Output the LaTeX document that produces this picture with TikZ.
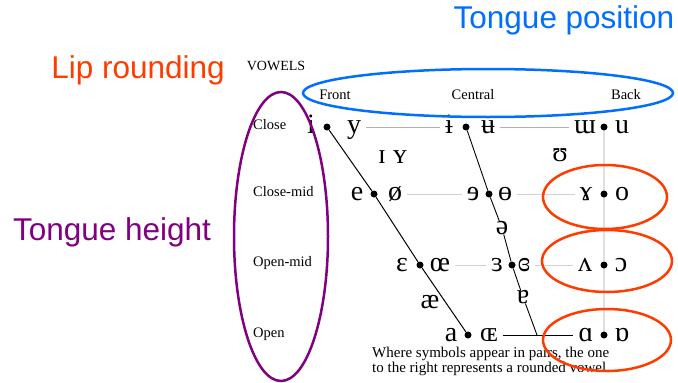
\documentclass[tikz,border=0pt]{standalone}
\usepackage{fontspec}
\setmainfont{Liberation Serif}
\newfontfamily\notefont{Liberation Sans}
\definecolor{posblue}{RGB}{0,110,255}
\definecolor{liporange}{RGB}{255,60,0}
\definecolor{heightpurple}{RGB}{128,0,128}

\begin{document}
\begin{tikzpicture}[x=1pt,y=-1pt,
    vowel/.style={inner ysep=0pt,inner xsep=5pt,text height=12.5pt,text depth=0pt,font=\fontsize{28}{28}\selectfont},
    dot/.style={circle,fill,inner sep=0pt,minimum size=7pt},
    rowlabel/.style={anchor=west,inner sep=0pt,text height=10pt,text depth=3pt,font=\fontsize{14.5}{14.5}\selectfont},
    note/.style={inner sep=0pt,font=\notefont\fontsize{31.5}{31.5}\selectfont},
    closeline/.style={gray!60,line width=0.8pt},
    midline/.style={gray!35,line width=0.8pt},
    backline/.style={gray!25,line width=1.5pt}]
    \useasboundingbox (0,0) rectangle (678,383);
    \node[note,text=posblue] (pos) at (564,20) {Tongue position};
    \node[note,text=liporange] (lip) at (138,70) {Lip rounding};
    \node[note,text=heightpurple] (height) at (112,232) {Tongue height};
    \node[font=\fontsize{14}{14}\selectfont] (title) at (276,66) {VOWELS};
    \node[rowlabel,anchor=center] (front) at (335,96) {Front};
    \node[rowlabel,anchor=center] (central) at (473,96) {Central};
    \node[rowlabel,anchor=center] (back) at (626,96) {Back};
    \node[rowlabel] (close) at (253,126) {Close};
    \node[rowlabel] (closemid) at (253,193) {Close-mid};
    \node[rowlabel] (openmid) at (253,263) {Open-mid};
    \node[rowlabel] (open) at (253,334) {Open};
    \draw[backline] (604,127) -- (604,335);
    \node[dot] (fd1) at (327,127) {};
    \node[dot] (fd2) at (374,194) {};
    \node[dot] (fd3) at (420,265) {};
    \node[dot] (fd4) at (468,335) {};
    \node[dot] (cd1) at (466,127) {};
    \node[dot] (cd2) at (489,194) {};
    \node[dot] (cd3) at (512,265) {};
    \coordinate (cd4) at (537,335);
    \node[dot] (bd1) at (604,127) {};
    \node[dot] (bd2) at (604,194) {};
    \node[dot] (bd3) at (604,265) {};
    \node[dot] (bd4) at (604,335) {};
    \node[vowel] (i) at (311,127) {i};
    \node[vowel] (y) at (354,127) {y};
    \node[vowel] (ibar) at (449,127) {ɨ};
    \node[vowel] (ubar) at (488,127) {ʉ};
    \node[vowel] (turnm) at (585,127) {ɯ};
    \node[vowel] (u) at (622,127) {u};
    \node[vowel] (smallI) at (382,157) {ɪ};
    \node[vowel] (smallY) at (400,157) {ʏ};
    \node[vowel] (upsilon) at (560,155) {ʊ};
    \node[vowel] (e) at (357,194) {e};
    \node[vowel] (oslash) at (395,194) {ø};
    \node[vowel] (reve) at (473,194) {ɘ};
    \node[vowel] (obar) at (505,194) {ɵ};
    \node[vowel] (ramshorn) at (586,194) {ɤ};
    \node[vowel] (o) at (622,194) {o};
    \node[vowel] (schwa) at (502,228) {ə};
    \node[vowel] (epsilon) at (402,265) {ɛ};
    \node[vowel] (oe) at (440,265) {œ};
    \node[vowel] (revepsilon) at (497,265) {ɜ};
    \node[vowel] (closedrev) at (524,265) {ɞ};
    \node[vowel] (turnv) at (585,265) {ʌ};
    \node[vowel] (openo) at (621,265) {ɔ};
    \node[vowel] (ash) at (430,302) {æ};
    \node[vowel] (turna) at (523,297) {ɐ};
    \node[vowel] (a) at (451,335) {a};
    \node[vowel] (OE) at (489,335) {ɶ};
    \node[vowel] (alpha) at (586,335) {ɑ};
    \node[vowel] (turnalpha) at (622,335) {ɒ};
    \draw[line width=1pt] (fd1) -- (fd2) -- (fd3) -- (fd4);
    \draw[line width=0.9pt] (cd1) -- (cd2) -- (schwa) (schwa) -- (cd3) -- (turna) (turna) -- (cd4);
    \draw[closeline] (y) -- (ibar);
    \draw[closeline] (ubar) -- (turnm);
    \draw[midline] (oslash) -- (reve);
    \draw[midline] (obar) -- (ramshorn);
    \draw[midline] (oe) -- (revepsilon);
    \draw[midline] (closedrev) -- (turnv);
    \draw[line width=0.9pt] (OE) -- (alpha);
    \node[anchor=north west,inner sep=0pt,align=left,font=\fontsize{15}{15}\selectfont] (remark) at (372,347) {Where symbols appear in pairs, the one\\to the right represents a rounded vowel.};
    \draw[posblue,line width=2.5pt] (488,93) ellipse [x radius=185,y radius=24];
    \draw[heightpurple,line width=2.5pt] (281,236.5) ellipse [x radius=47,y radius=144.5];
    \draw[liporange,line width=2.5pt] (605,197) ellipse [x radius=62,y radius=32];
    \draw[liporange,line width=2.5pt] (607,261) ellipse [x radius=65,y radius=31];
    \draw[liporange,line width=2.5pt] (607,340) ellipse [x radius=64,y radius=31];
\end{tikzpicture}
\end{document}
